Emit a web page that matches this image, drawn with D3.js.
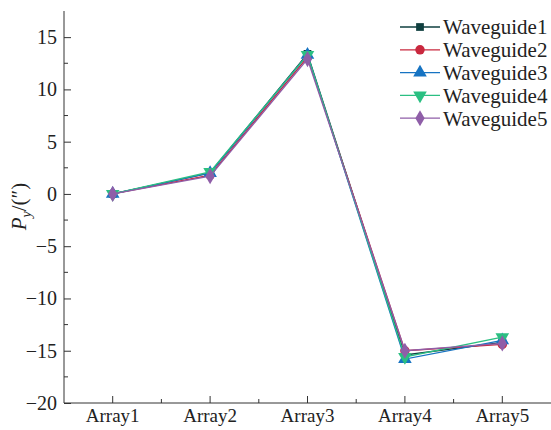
<!DOCTYPE html>
<html>
<head>
<meta charset="utf-8">
<script src="https://cdn.jsdelivr.net/npm/d3@7"></script>
<style>
  body { margin: 0; background: #fff; }
  svg text { fill: #222; }
</style>
</head>
<body>
<div id="chart"></div>
<script>
var categories = ["Array1", "Array2", "Array3", "Array4", "Array5"];
var seriesNames = ["Waveguide1", "Waveguide2", "Waveguide3", "Waveguide4", "Waveguide5"];
var wg1 = [0, 2.0, 13.4, -15.4, -14.2];
var wg2 = [0, 1.8, 13.1, -15.0, -14.4];
var wg3 = [0, 2.0, 13.3, -15.8, -14.0];
var wg4 = [0, 2.1, 13.3, -15.6, -13.7];
var wg5 = [0, 1.7, 12.9, -15.0, -14.3];
var yTicks = [-20, -15, -10, -5, 0, 5, 10, 15];

var allValues = [wg1, wg2, wg3, wg4, wg5];
var colors = ["#0f3f3f", "#c9283e", "#1673c2", "#2bbf82", "#8f5ea8"];
var symbols = [d3.symbolSquare, d3.symbolCircle, d3.symbolTriangle, d3.symbolTriangle, d3.symbolDiamond];
var sizes = [60, 70, 80, 80, 75];

var w = 551, h = 430;
var margin = { left: 64, right: 0, top: 11, bottom: 27 };
var serif = "Times New Roman, Times, Liberation Serif, DejaVu Serif, serif";

var svg = d3.select("#chart").append("svg")
  .attr("width", w).attr("height", h)
  .style("font-family", serif);

var x = d3.scaleBand().domain(categories)
  .range([margin.left, w - margin.right]);
var y = d3.scaleLinear().domain([-20, 17.5])
  .range([h - margin.bottom, margin.top]);

function cx(c) { return x(c) + x.bandwidth() / 2; }

function marker(sel, k) {
  sel.attr("d", d3.symbol(symbols[k], sizes[k]));
}

// axes
var yAxis = d3.axisLeft(y).tickValues(yTicks).tickSize(-7).tickPadding(7)
  .tickFormat(d => d < 0 ? "\u2212" + Math.abs(d) : d);
var gy = svg.append("g").attr("transform", `translate(${margin.left},0)`).call(yAxis)
  .attr("font-family", serif);
gy.select(".domain").attr("stroke", "#333").attr("d", `M0,${y(-20)}V${y(17.5)}`);
gy.selectAll(".tick line").attr("stroke", "#333");
gy.selectAll(".tick text").style("font-size", "20px").attr("fill", "#222").style("font-family", serif);
// minor y ticks
gy.selectAll(".minor").data(d3.range(-17.5, 17.5, 5)).enter().append("line")
  .attr("x1", 0).attr("x2", 4).attr("y1", d => y(d)).attr("y2", d => y(d))
  .attr("stroke", "#333");

var xAxis = d3.axisBottom(x).tickSize(-7).tickPadding(6);
var gx = svg.append("g").attr("transform", `translate(0,${h - margin.bottom})`).call(xAxis)
  .attr("font-family", serif);
gx.select(".domain").attr("stroke", "#333").attr("d", `M${margin.left},0H${w}`);
gx.selectAll(".tick line").attr("stroke", "#333");
gx.selectAll(".tick text").style("font-size", "19px").attr("fill", "#222").style("font-family", serif);
gx.selectAll(".minor").data(categories.slice(1)).enter().append("line")
  .attr("x1", d => x(d)).attr("x2", d => x(d)).attr("y1", 0).attr("y2", -4)
  .attr("stroke", "#333");

// series
var line = d3.line().x((d, i) => cx(categories[i])).y(d => y(d));
allValues.forEach(function (vals, k) {
  var g = svg.append("g");
  g.append("path").datum(vals).attr("d", line)
    .attr("fill", "none").attr("stroke", colors[k]).attr("stroke-width", 1.3);
  g.selectAll("path.pt").data(vals).enter().append("path")
    .attr("class", "pt")
    .call(marker, k)
    .attr("fill", colors[k])
    .attr("transform", (d, i) => `translate(${cx(categories[i])},${y(d)})` + (k === 3 ? " rotate(180)" : ""));
});

// legend
var lg = svg.append("g");
seriesNames.forEach(function (name, k) {
  var ly = 27 + k * 22.8;
  lg.append("line").attr("x1", 400).attr("x2", 440).attr("y1", ly).attr("y2", ly)
    .attr("stroke", colors[k]).attr("stroke-width", 1.3);
  lg.append("path").call(marker, k).attr("fill", colors[k])
    .attr("transform", `translate(420,${ly})` + (k === 3 ? " rotate(180)" : ""));
  lg.append("text").attr("x", 443).attr("y", ly).attr("dy", "0.35em")
    .style("font-size", "21px").style("font-family", serif).text(name);
});

// y label
var yl = svg.append("text")
  .attr("transform", `translate(26,${y(-1.2)}) rotate(-90)`)
  .attr("text-anchor", "middle").style("font-size", "21px").style("font-family", serif);
yl.append("tspan").style("font-style", "italic").text("P");
yl.append("tspan").style("font-style", "italic").style("font-size", "14px").attr("dy", 5).text("y");
yl.append("tspan").attr("dy", -5).text("/(\u2033)");
</script>
</body>
</html>
